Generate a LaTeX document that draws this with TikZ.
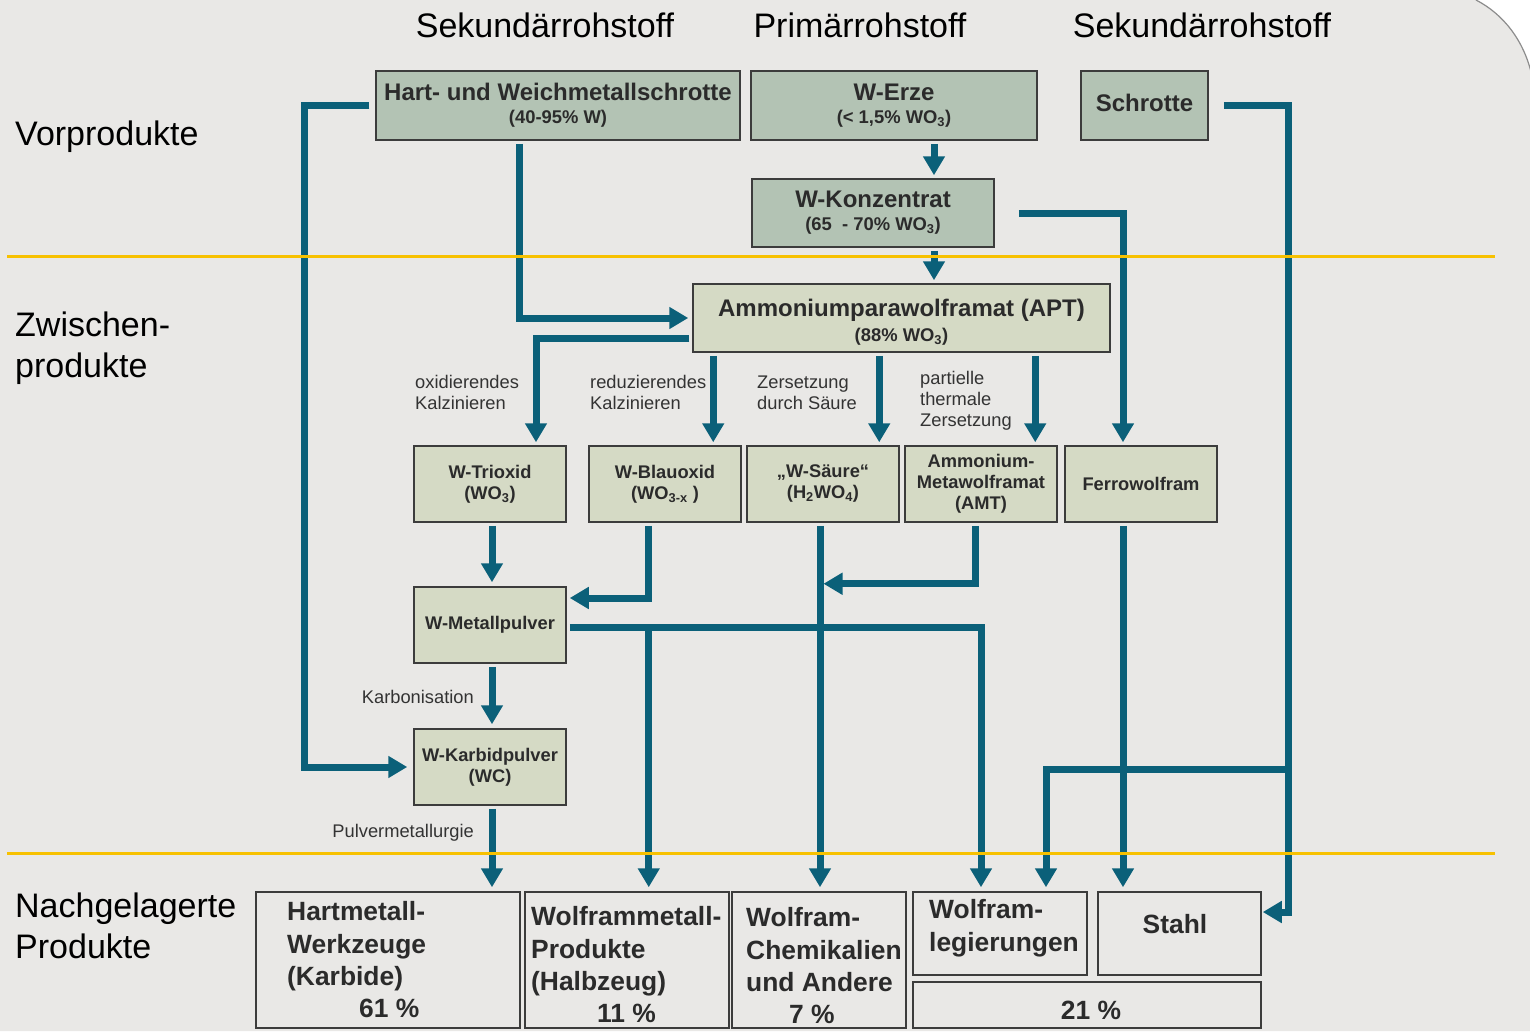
\documentclass[tikz,border=0pt]{standalone}
\usepackage{fontspec}
\setmainfont{Liberation Sans}
\usetikzlibrary{arrows.meta,calc}
\definecolor{bgc}{HTML}{E9E8E6}
\definecolor{topf}{HTML}{B3C3B4}
\definecolor{midf}{HTML}{D5DAC5}
\definecolor{bord}{HTML}{3C3C3C}
\definecolor{arrc}{HTML}{0B6079}
\definecolor{yel}{HTML}{F7C100}
\definecolor{txt}{HTML}{2B2B2B}
\begin{document}
\begin{tikzpicture}[x=1pt,y=-1pt,
 box/.style={draw=bord,line width=1.5pt,inner sep=0pt,text=txt,align=center},
 topbox/.style={box,fill=topf,font=\bfseries\fontsize{18.4}{23}\selectfont},
 midbox/.style={box,fill=midf,minimum width=152pt,minimum height=76pt,font=\bfseries\fontsize{18.3}{21}\selectfont},
 botbox/.style={box},
 bottxt/.style={anchor=north west,inner sep=0pt,align=left,text=txt,font=\bfseries\fontsize{26.4}{32.3}\selectfont},
 proc/.style={anchor=north west,inner sep=0pt,align=left,text=black!80,font=\fontsize{18.3}{21}\selectfont},
 hdr/.style={font=\fontsize{34}{41}\selectfont,inner sep=0pt,align=left},
 conn/.style={draw=arrc,line width=7pt},
 arr/.style={conn,-{Triangle[length=19pt,width=21pt]}},
 yline/.style={draw=yel,line width=3pt}
]
\useasboundingbox (0,0) rectangle (1530,1031);
\fill[white] (0,0) rectangle (1530,1031);
\fill[bgc] (0,0) -- (1476,0) .. controls (1503,14) and (1524,40) .. (1532,76) -- (1532,1031) -- (0,1031) -- cycle;
\draw[black!45, line width=1.2pt] (1476,0) .. controls (1503,14) and (1524,40) .. (1532,76);

% headers
\node[hdr] (h1) at (545,25) {Sekundärrohstoff};
\node[hdr] (h2) at (860,25) {Primärrohstoff};
\node[hdr] (h3) at (1202,25) {Sekundärrohstoff};
\node[hdr,anchor=west] (l1) at (15,137) {Vorprodukte};
\node[hdr,anchor=west] (l2) at (15,348) {Zwischen-\\produkte};
\node[hdr,anchor=west] (l3) at (15,926) {Nachgelagerte\\Produkte};

% top boxes
\node[topbox,minimum width=364pt,minimum height=69pt] (hart) at (558,105.5)
  {{\fontsize{24}{23}\selectfont Hart- und Weichmetallschrotte}\\(40-95\% W)};
\node[topbox,minimum width=286pt,minimum height=69pt] (erze) at (894,105.5)
  {{\fontsize{24}{23}\selectfont W-Erze}\\(< 1,5\% WO\textsubscript{3})};
\node[topbox,minimum width=127pt,minimum height=69pt] (schr) at (1144.5,105.5) {};
\node[inner sep=0pt,text=txt,font=\bfseries\fontsize{24}{23}\selectfont] (schrT) at (1144.5,102.5) {Schrotte};
\node[topbox,minimum width=242pt,minimum height=68pt] (konz) at (873,213)
  {{\fontsize{24}{23}\selectfont W-Konzentrat}\\(65\ \ - 70\% WO\textsubscript{3})};
\node[topbox,fill=midf,minimum width=417pt,minimum height=68pt] (apt) at (901.5,318) {};
\node[inner sep=0pt,text=txt,align=center,font=\bfseries\fontsize{18.4}{25.5}\selectfont] (aptT) at (901.5,322)
  {{\fontsize{24}{25.5}\selectfont Ammoniumparawolframat (APT)}\\(88\% WO\textsubscript{3})};

% middle boxes
\node[midbox] (trio) at (490,484) {W-Trioxid\\(WO\textsubscript{3})};
\node[midbox] (blau) at (665,484) {W-Blauoxid\\(WO\textsubscript{3-x} )};
\node[midbox] (saeure) at (823,484) {„W-Säure“\\(H\textsubscript{2}WO\textsubscript{4})};
\node[midbox] (amt) at (981,484) {Ammonium-\\Metawolframat\\(AMT)};
\node[midbox] (ferro) at (1141,484) {Ferrowolfram};
\node[midbox] (metall) at (490,625) {W-Metallpulver};
\node[midbox] (karbid) at (490,767) {W-Karbidpulver\\(WC)};

% bottom boxes
\node[botbox,minimum width=264pt,minimum height=136pt] (hm) at (388,960) {};
\node[botbox,minimum width=204pt,minimum height=136pt] (wm) at (627,960) {};
\node[botbox,minimum width=174pt,minimum height=136pt] (chem) at (819,960) {};
\node[botbox,minimum width=174pt,minimum height=83pt] (leg) at (1000,933.5) {};
\node[botbox,minimum width=163pt,minimum height=83pt] (stahl) at (1179.5,933.5) {};
\node[botbox,minimum width=348pt,minimum height=46pt] (p21) at (1087,1005) {};
\node[bottxt] (hmT) at (287,901.5) {Hartmetall-\\Werkzeuge\\(Karbide)\\\hspace*{72pt}61 \%};
\node[bottxt] (wmT) at (531,906.5) {Wolframmetall-\\Produkte\\(Halbzeug)\\\hspace*{66pt}11 \%};
\node[bottxt] (chemT) at (746,907.5) {Wolfram-\\Chemikalien\\und Andere\\\hspace*{43pt}7 \%};
\node[bottxt] (legT) at (929,899.5) {Wolfram-\\legierungen};
\node[bottxt,anchor=center] (stahlT) at (1175,924) {Stahl};
\node[bottxt,anchor=center] (p21T) at (1091,1010) {21 \%};

% process labels
\node[proc] (pl1) at (415,375) {oxidierendes\\Kalzinieren};
\node[proc] (pl2) at (590,375) {reduzierendes\\Kalzinieren};
\node[proc] (pl3) at (757,376) {Zersetzung\\durch Säure};
\node[proc] (pl4) at (920,371) {partielle\\thermale\\Zersetzung};
\node[proc,anchor=east] (pl5) at (474,697) {Karbonisation};
\node[proc,anchor=east] (pl6) at (474,833) {Pulvermetallurgie};

% connectors
\draw[arr] ($(hart.west)+(-6,0)$) -- ++(-65,0) |- ($(karbid.west)+(-6,0)$);
\draw[arr] ($(hart.south west)+(144,3)$) |- ($(apt.west)+(-4,0)$);
\draw[arr] ($(erze.south)+(40,3)$) coordinate (c1) -- ($(c1 |- konz.north)+(0,-3)$);
\draw[arr] ($(konz.south)+(61,3)$) coordinate (c2) -- ($(c2 |- apt.north)+(0,-3)$);
\draw[arr] ($(konz.east)+(24,0)$) -| ($(ferro.north)+(-18,-3)$);
\coordinate (rail) at ($(schr.east)+(80,0)$);
\coordinate (sbr) at ($(rail)+(0,663.5)$);
\draw[arr] ($(schr.east)+(15,0)$) -- (rail) |- ($(stahl.east)+(1,-21.5)$);
\draw[arr] (sbr) -| ($(leg.north)+(46,-4)$);
\draw[arr] ($(apt.west)+(-3,20)$) -| ($(trio.north)+(46,-3)$);
\draw[arr] ($(apt.south west)+(21,3)$) coordinate (c3) -- ($(c3 |- blau.north)+(0,-3)$);
\draw[arr] ($(apt.south west)+(187,3)$) coordinate (c4) -- ($(c4 |- saeure.north)+(0,-3)$);
\draw[arr] ($(apt.south west)+(343,3)$) coordinate (c5) -- ($(c5 |- amt.north)+(0,-3)$);
\draw[arr] ($(trio.south)+(2,3)$) coordinate (c6) -- ($(c6 |- metall.north)+(0,-4)$);
\draw[arr] ($(blau.south)+(-17,3)$) |- ($(metall.east)+(3,-27)$);
\draw[arr] ($(saeure.south)+(-3,3)$) coordinate (c7) -- ($(c7 |- chem.north)+(0,-4)$);
\draw[arr] ($(amt.south)+(-6,3)$) |- ($(saeure.south)+(0.5,61)$);
\coordinate (mj) at ($(metall.east)+(82,2)$);
\draw[arr] ($(metall.east)+(3,2)$) -| ($(leg.north)+(-19,-4)$);
\draw[arr] (mj) -- ($(mj |- wm.north)+(0,-4)$);
\draw[arr] ($(metall.south)+(2,3)$) coordinate (c8) -- ($(c8 |- karbid.north)+(0,-4)$);
\draw[arr] ($(karbid.south)+(2,3)$) coordinate (c9) -- ($(c9 |- hm.north)+(0,-4)$);
\draw[arr] ($(ferro.south)+(-18,3)$) coordinate (c10) -- ($(c10 |- stahl.north)+(0,-4)$);

% separator lines
\draw[yline] (7,256) -- (1495,256);
\draw[yline] (7,853) -- (1495,853);
\end{tikzpicture}
\end{document}
